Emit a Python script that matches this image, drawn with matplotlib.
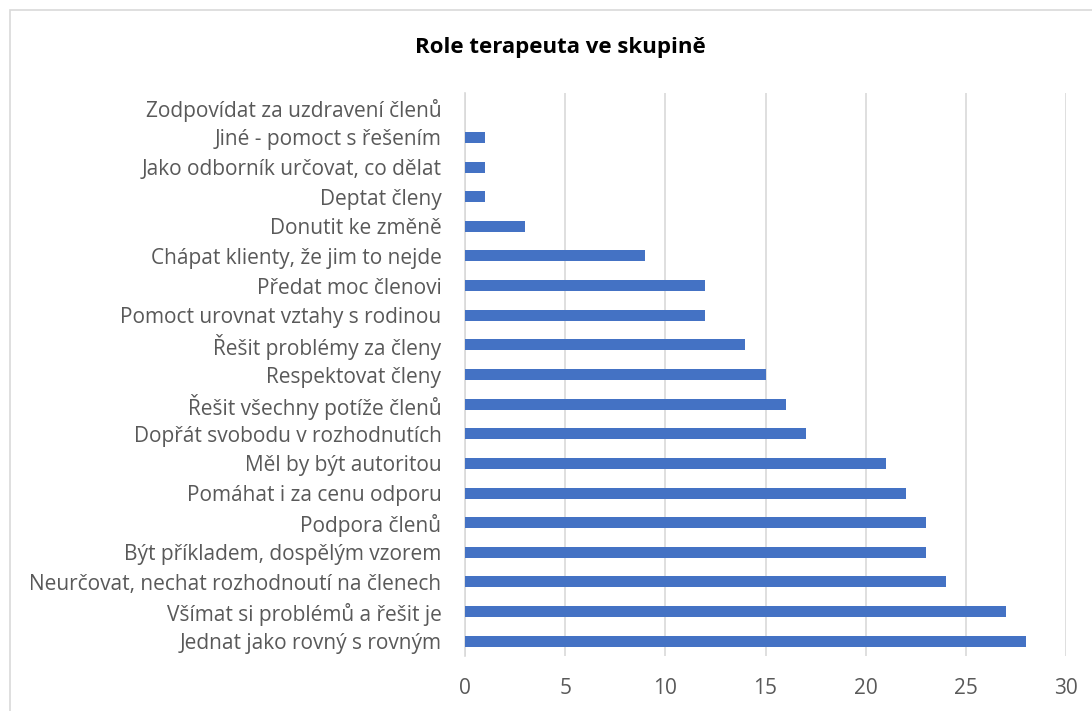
import matplotlib
matplotlib.use("Agg")
import matplotlib.pyplot as plt
from matplotlib.patches import Rectangle

# categories listed bottom to top, as drawn
categories = [
    "Jednat jako rovný s rovným",
    "Všímat si problémů a řešit je",
    "Neurčovat, nechat rozhodnoutí na členech",
    "Být příkladem, dospělým vzorem",
    "Podpora členů",
    "Pomáhat i za cenu odporu",
    "Měl by být autoritou",
    "Dopřát svobodu v rozhodnutích",
    "Řešit všechny potíže členů",
    "Respektovat členy",
    "Řešit problémy za členy",
    "Pomoct urovnat vztahy s rodinou",
    "Předat moc členovi",
    "Chápat klienty, že jim to nejde",
    "Donutit ke změně",
    "Deptat členy",
    "Jako odborník určovat, co dělat",
    "Jiné - pomoct s řešením",
    "Zodpovídat za uzdravení členů",
]
values = [28, 27, 24, 23, 23, 22, 21, 17, 16, 15, 14, 12, 12, 9, 3, 1, 1, 1, 0]
ticks = [0, 5, 10, 15, 20, 25, 30]

plt.rcParams['font.family'] = ['Open Sans', 'DejaVu Sans']

fig = plt.figure(figsize=(10.92, 7.11), dpi=100)
ax = fig.add_axes([465 / 1092, 1 - 656 / 711, (1066 - 465) / 1092, (656 - 93) / 711])

# chart border
fig.patches.append(Rectangle((10 / 1092, -0.05), 1.1, 1 - 10 / 711 + 0.05,
                             transform=fig.transFigure, fill=False,
                             edgecolor="#d9d9d9", linewidth=1.2))

pos = list(range(len(categories)))
ax.barh(pos, values, height=0.37, color="#4472c4", zorder=3)

ax.set_xlim(0, 30)
ax.set_ylim(-0.5, len(categories) - 0.5)
ax.set_xticks(ticks)
ax.set_yticks(pos)
ax.set_yticklabels(categories, fontsize=15, color="#595959")
ax.tick_params(axis="x", labelsize=15, labelcolor="#595959", length=0, pad=16)
ax.tick_params(axis="y", length=0, pad=17)
ax.grid(axis="x", color="#d9d9d9", linewidth=1.2, zorder=0)
for s in ["top", "right", "bottom"]:
    ax.spines[s].set_visible(False)
ax.spines["left"].set_color("#d9d9d9")
ax.spines["left"].set_linewidth(1.2)

fig.text(560 / 1092, 1 - 47 / 711, "Role terapeuta ve skupině", ha="center", va="center",
         fontsize=16, fontweight="bold", color="black")

fig.savefig("out.png", dpi=100)
